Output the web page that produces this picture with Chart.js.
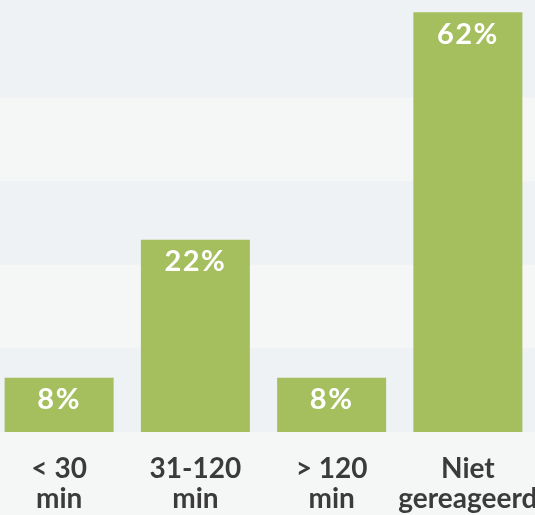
<!DOCTYPE html>
<html>
<head>
<meta charset="utf-8">
<script src="https://cdn.jsdelivr.net/npm/chart.js@4/dist/chart.umd.min.js"></script>
<style>
  html, body { margin: 0; padding: 0; background: #f5f7f7; overflow: hidden; }
  #chart { position: absolute; left: -9px; top: 0; }
</style>
</head>
<body>
<canvas id="chart" width="560" height="515"></canvas>
<script>
// reaction time chart

const categories = [['< 30', 'min'], ['31-120', 'min'], ['> 120', 'min'], ['Niet', 'gereageerd']];
// bar heights as drawn (the 31-120 bar is drawn taller than its label in the original)
const barValues = [8, 28.4, 8, 62];
const valueLabels = ['8%', '22%', '8%', '62%'];
const yMax = 63.8;
const yStep = 12.35;

const green = '#a5bf5e';
const bandColor = '#eef2f4';
const textColor = '#3b3b3b';

// alternating background bands between y ticks
const bands = {
  id: 'bands',
  beforeDraw(chart) {
    const { ctx, scales: { y } } = chart;
    ctx.save();
    ctx.fillStyle = bandColor;
    y.ticks.forEach((tick, i) => {
      if (i % 2 === 0 && i + 1 < y.ticks.length) {
        const top = y.getPixelForValue(y.ticks[i + 1].value);
        const bottom = y.getPixelForValue(tick.value);
        ctx.fillRect(0, top, chart.width, bottom - top);
      }
    });
    ctx.restore();
  }
};

// white percentage inside each bar
const barLabels = {
  id: 'barLabels',
  afterDatasetsDraw(chart) {
    const { ctx } = chart;
    const meta = chart.getDatasetMeta(0);
    ctx.save();
    ctx.fillStyle = '#ffffff';
    ctx.font = 'bold 29px Lato';
    ctx.letterSpacing = '1.5px';
    ctx.textAlign = 'center';
    ctx.textBaseline = 'middle';
    meta.data.forEach((bar, i) => {
      ctx.fillText(valueLabels[i], bar.x, bar.y + 22);
    });
    ctx.restore();
  }
};

const chart = new Chart(document.getElementById('chart'), {
  type: 'bar',
  data: {
    labels: categories,
    datasets: [{
      data: barValues,
      backgroundColor: green,
      borderWidth: 0,
      barPercentage: 0.8,
      categoryPercentage: 1
    }]
  },
  options: {
    responsive: false,
    animation: false,
    layout: { padding: { left: 0, right: 15, top: 0, bottom: 0 } },
    plugins: {
      legend: { display: false },
      tooltip: { enabled: false }
    },
    scales: {
      x: {
        grid: { display: false, drawTicks: false },
        border: { display: false },
        ticks: {
          color: textColor,
          font: { family: 'Lato', size: 28, weight: 'bold', lineHeight: 1.08 },
          padding: 22,
          maxRotation: 0,
          autoSkip: false
        },
        afterFit(scale) {
          scale.height = 83;
          scale.paddingLeft = 0;
          scale.paddingRight = 0;
        }
      },
      y: {
        display: false,
        min: 0,
        max: yMax,
        ticks: { stepSize: yStep }
      }
    }
  },
  plugins: [bands, barLabels]
});
</script>
</body>
</html>
